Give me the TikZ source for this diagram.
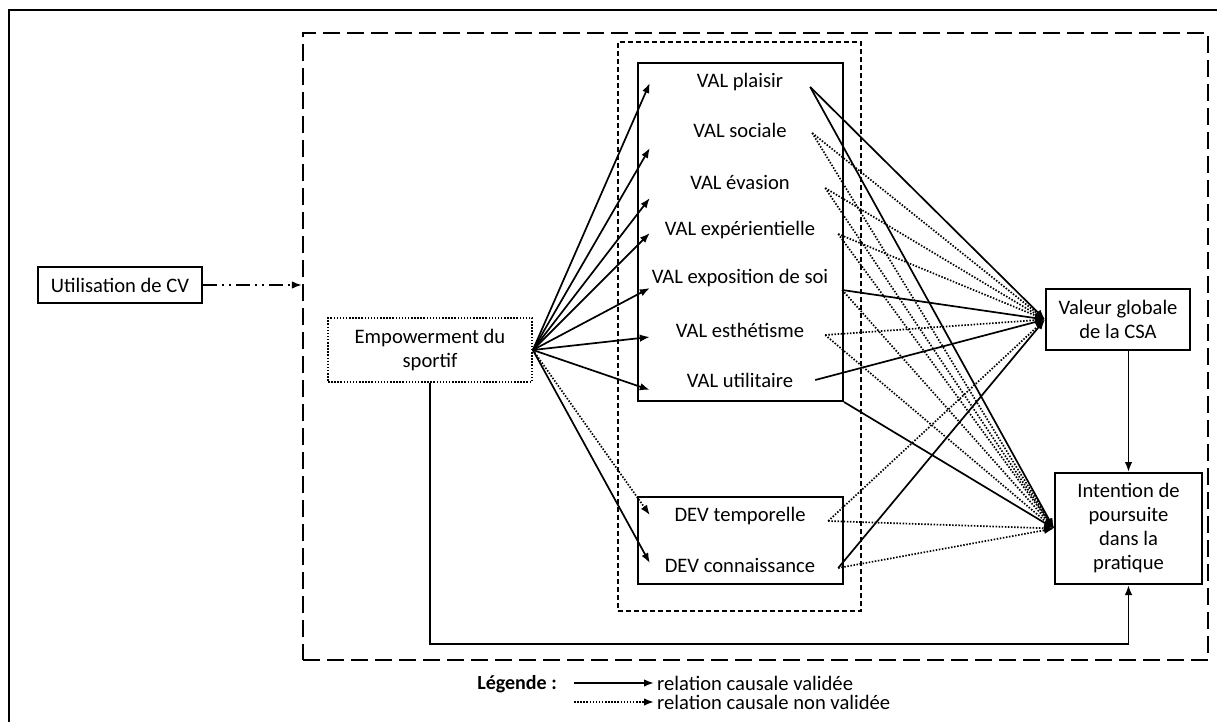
\documentclass[tikz,border=0pt]{standalone}
\usepackage{fontspec}
\setmainfont{Carlito}
\usetikzlibrary{arrows.meta, positioning}

\tikzset{
  boxnode/.style={draw, line width=2pt, inner sep=0pt, align=center},
  varlbl/.style={inner sep=0pt, minimum width=180pt},
  valid/.style={->, line width=1.7pt},
  nonvalid/.style={->, line width=1.7pt, dash pattern=on 1.5pt off 1.6pt},
}

\begin{document}
\begin{tikzpicture}[x=1pt, y=-1pt, >={Latex[length=10pt,width=7.5pt]}, font=\fontsize{20.6}{24}\selectfont]
\useasboundingbox (0,0) rectangle (1217,722);
\draw[line width=2.2pt] (9,722) -- (9,10) -- (1217,10);

% cadres
\node[draw, line width=2.2pt, dash pattern=on 17pt off 7pt, minimum width=905pt, minimum height=627pt] (outer) at (755.5,346.5) {};
\node[draw, line width=1.7pt, dash pattern=on 5pt off 3pt, minimum width=243pt, minimum height=569pt] (inner) at (739.5,326.5) {};
\node[boxnode, minimum width=205pt, minimum height=338pt] (valbox) at (740.5,232) {};
\node[boxnode, minimum width=205pt, minimum height=87pt] (devbox) at (740.5,540.5) {};

\node[boxnode, minimum width=164pt, minimum height=36pt] (cv) at (120,285) {Utilisation de CV};
\node[draw, line width=1.7pt, dash pattern=on 1.5pt off 1.6pt, inner sep=0pt, align=center,
      minimum width=204pt, minimum height=64pt] (emp) at (430,350) {Empowerment du\\sportif};
\node[boxnode, minimum width=144pt, minimum height=61pt] (valg) at (1118,319.5) {Valeur globale\\de la CSA};
\node[boxnode, minimum width=147pt, minimum height=111pt] (inten) at (1128.5,528.5) {Intention de\\poursuite\\dans la\\pratique};

\node[varlbl] (v1) at (740,82) {VAL plaisir};
\node[varlbl] (v2) at (740,130) {VAL sociale};
\node[varlbl] (v3) at (740,182) {VAL évasion};
\node[varlbl] (v4) at (740,230) {VAL expérientielle};
\node[varlbl] (v5) at (740,278) {VAL exposition de soi};
\node[varlbl] (v6) at (740,330) {VAL esthétisme};
\node[varlbl] (v7) at (740,380) {VAL utilitaire};
\node[varlbl] (d1) at (740,516) {DEV temporelle};
\node[varlbl] (d2) at (740,565) {DEV connaissance};

\coordinate (v1o) at ([shift={(-20,5)}]v1.east);
\coordinate (v2o) at ([shift={(-18,3)}]v2.east);
\coordinate (v3o) at ([shift={(-5,6)}]v3.east);
\coordinate (v4o) at ([shift={(8,4)}]v4.east);
\coordinate (v5o) at ([shift={(12,12)}]v5.east);
\coordinate (v6o) at ([shift={(-5,5)}]v6.east);
\coordinate (v7o) at ([shift={(-15,0)}]v7.east);
\coordinate (d1o) at ([shift={(-2,5)}]d1.east);
\coordinate (d2o) at ([shift={(8,3)}]d2.east);

\draw[->, line width=1.7pt, dash pattern=on 14pt off 5pt on 2pt off 5pt on 2pt off 5pt] (cv.east) -- (cv.east -| outer.west);

% empowerment -> valeurs
\draw[valid] (emp.east) -- ([shift={(0,1)}]v1.west);
\draw[valid] (emp.east) -- ([shift={(0,18)}]v2.west);
\draw[valid] (emp.east) -- ([shift={(0,16)}]v3.west);
\draw[valid] (emp.east) -- ([shift={(0,3)}]v4.west);
\draw[valid] (emp.east) -- ([shift={(0,10)}]v5.west);
\draw[valid] (emp.east) -- ([shift={(0,7)}]v6.west);
\draw[valid] (emp.east) -- ([shift={(0,10)}]v7.west);
\draw[nonvalid] (emp.east) -- ([shift={(0,-1)}]d1.west);
\draw[valid] (emp.east) -- ([shift={(0,-2)}]d2.west);

% valeurs -> valeur globale / intention
\draw[valid] (v1o) -- (valg.west);
\draw[valid] (v1o) -- (inten.west);
\draw[nonvalid] (v2o) -- (valg.west);
\draw[nonvalid] (v2o) -- (inten.west);
\draw[nonvalid] (v3o) -- (valg.west);
\draw[nonvalid] (v3o) -- (inten.west);
\draw[nonvalid] (v4o) -- (valg.west);
\draw[nonvalid] (v4o) -- (inten.west);
\draw[valid] (v5o) -- (valg.west);
\draw[nonvalid] (v5o) -- (inten.west);
\draw[nonvalid] (v6o) -- (valg.west);
\draw[nonvalid] (v6o) -- (inten.west);
\draw[valid] (v7o) -- (valg.west);
\draw[valid] (valbox.south east) -- (inten.west);
\draw[nonvalid] (d1o) -- (valg.west);
\draw[nonvalid] (d1o) -- (inten.west);
\draw[valid] (d2o) -- (valg.west);
\draw[nonvalid] (d2o) -- (inten.west);

\draw[valid] (inten.north |- valg.south) -- (inten.north);
\coordinate (bas) at (0,644);
\draw[valid] (emp.south) |- (inten.south |- bas) -- (inten.south);

% legende
\node[font=\bfseries\fontsize{20}{24}\selectfont, anchor=east, inner sep=0pt] (leg) at (557,684) {Légende :};
\coordinate (l1s) at (574,683);
\coordinate (l2s) at (574,702);
\node[anchor=west, inner xsep=3pt, inner ysep=0pt] (l1t) at (654,683) {relation causale validée};
\node[anchor=west, inner xsep=3pt, inner ysep=0pt] (l2t) at (654,702) {relation causale non validée};
\draw[valid] (l1s) -- (l1t.west);
\draw[nonvalid] (l2s) -- (l2t.west);
\end{tikzpicture}
\end{document}
